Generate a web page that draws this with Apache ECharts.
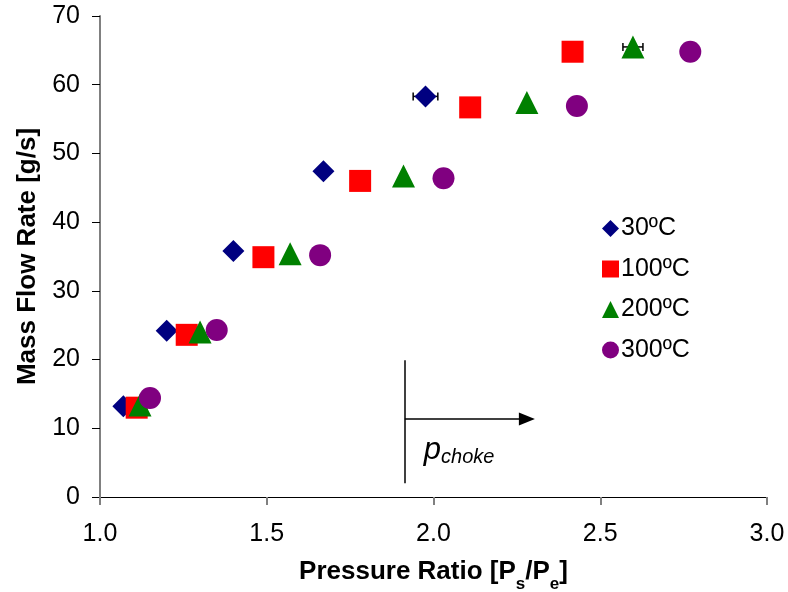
<!DOCTYPE html>
<html><head><meta charset="utf-8">
<script src="https://cdn.jsdelivr.net/npm/echarts@6/dist/echarts.min.js"></script>
<style>html,body{margin:0;padding:0;background:#fff}#c{width:788px;height:592px}</style>
</head><body><div id="c"></div>
<script>
const seriesNames = ['30ºC', '100ºC', '200ºC', '300ºC'];
const s30 = [[1.07, 13.2], [1.20, 24.2], [1.40, 35.8], [1.67, 47.4], [1.976, 58.3]];
const s100 = [[1.11, 13.0], [1.26, 23.6], [1.49, 34.9], [1.78, 46.0], [2.11, 56.7], [2.417, 64.8]];
const s200 = [[1.12, 13.4], [1.30, 24.0], [1.57, 35.4], [1.91, 46.7], [2.28, 57.4], [2.598, 65.5]];
const s300 = [[1.15, 14.4], [1.35, 24.3], [1.66, 35.2], [2.03, 46.4], [2.43, 56.9], [2.77, 64.8]];
const errorBars = [[1.976, 58.3, 0.037], [2.598, 65.5, 0.030]];
const chokeX = 1.914, chokeY0 = 2.0, chokeY1 = 19.9, arrowY = 11.35, arrowX1 = 2.28;

const font = 'Liberation Sans, Arial, sans-serif';
const chart = echarts.init(document.getElementById('c'));
const mk = (name, data, symbol, color, size) => ({
  name, type: 'scatter', data, symbol, symbolSize: size,
  itemStyle: { color, opacity: 1 }, z: 3
});
chart.setOption({
  animation: false,
  grid: { left: 100, right: 21, top: 16, bottom: 95, containLabel: false, outerBoundsMode: 'none' },
  xAxis: {
    type: 'value', min: 1, max: 3, interval: 0.5,
    name: '{b|Pressure Ratio [P}{s|s}{b|/P}{s|e}{b|]}',
    nameLocation: 'middle', nameGap: 62,
    nameTextStyle: { rich: {
      b: { fontFamily: font, fontWeight: 'bold', fontSize: 26, color: '#000' },
      s: { fontFamily: font, fontWeight: 'bold', fontSize: 17, color: '#000', verticalAlign: 'bottom', padding: [0,0,-8,0] }
    } },
    axisLine: { onZero: false, lineStyle: { color: '#000', width: 1 } },
    axisTick: { show: true, inside: false, length: 8, lineStyle: { color: '#808080', width: 2 } },
    axisLabel: { fontFamily: font, fontSize: 25, color: '#000', margin: 25, formatter: v => v.toFixed(1) },
    splitLine: { show: false }
  },
  yAxis: {
    type: 'value', min: 0, max: 70, interval: 10,
    name: 'Mass Flow Rate [g/s]', nameLocation: 'middle', nameGap: 59,
    nameTextStyle: { fontFamily: font, fontWeight: 'bold', fontSize: 26, color: '#000' },
    axisLine: { show: true, lineStyle: { color: '#808080', width: 2 } },
    axisTick: { show: true, length: 8, lineStyle: { color: '#000', width: 1 } },
    axisLabel: { fontFamily: font, fontSize: 25, color: '#000', margin: 20 },
    splitLine: { show: false }
  },
  legend: {
    orient: 'vertical', left: 597, top: 211, itemWidth: 17, itemHeight: 17, itemGap: 15.5,
    textStyle: { fontFamily: font, fontSize: 25, color: '#000', padding: [0,0,0,-3] },
    data: [
      { name: seriesNames[0], icon: 'diamond' },
      { name: seriesNames[1], icon: 'rect' },
      { name: seriesNames[2], icon: 'triangle' },
      { name: seriesNames[3], icon: 'circle' }
    ]
  },
  series: [
    {
      type: 'custom', name: 'err', data: errorBars, z: 2, silent: true,
      renderItem: (params, api) => {
        const x = api.value(0), y = api.value(1), e = api.value(2);
        const a = api.coord([x - e, y]), b = api.coord([x + e, y]);
        const st = { stroke: '#000', lineWidth: 1.5 };
        return { type: 'group', children: [
          { type: 'line', shape: { x1: a[0], y1: a[1], x2: b[0], y2: b[1] }, style: st },
          { type: 'line', shape: { x1: a[0], y1: a[1] - 4, x2: a[0], y2: a[1] + 4 }, style: st },
          { type: 'line', shape: { x1: b[0], y1: b[1] - 4, x2: b[0], y2: b[1] + 4 }, style: st }
        ] };
      }
    },
    mk(seriesNames[0], s30, 'diamond', '#000080', 22),
    mk(seriesNames[1], s100, 'rect', '#ff0000', 22),
    mk(seriesNames[2], s200, 'triangle', '#008000', 23),
    mk(seriesNames[3], s300, 'circle', '#800080', 22),
    {
      type: 'line', name: 'choke', data: [], silent: true,
      markLine: {
        silent: true, animation: false, label: { show: false },
        lineStyle: { color: '#000', width: 1.5, type: 'solid' },
        data: [
          [{ coord: [chokeX, chokeY0], symbol: 'none' }, { coord: [chokeX, chokeY1], symbol: 'none' }],
          [{ coord: [chokeX, arrowY], symbol: 'none' }, { coord: [arrowX1, arrowY], symbol: 'triangle', symbolSize: [13, 16] }]
        ]
      }
    }
  ]
});
const p = chart.convertToPixel({ gridIndex: 0 }, [chokeX, 5.2]);
chart.setOption({ graphic: [{
  type: 'text', left: p[0] + 19, top: p[1] - 26,
  style: { rich: {
    p: { fontFamily: font, fontStyle: 'italic', fontSize: 31, fill: '#000' },
    s: { fontFamily: font, fontStyle: 'italic', fontSize: 20, fill: '#000', padding: [14,0,0,0] }
  }, text: '{p|p}{s|choke}' }
}] });
</script></body></html>
